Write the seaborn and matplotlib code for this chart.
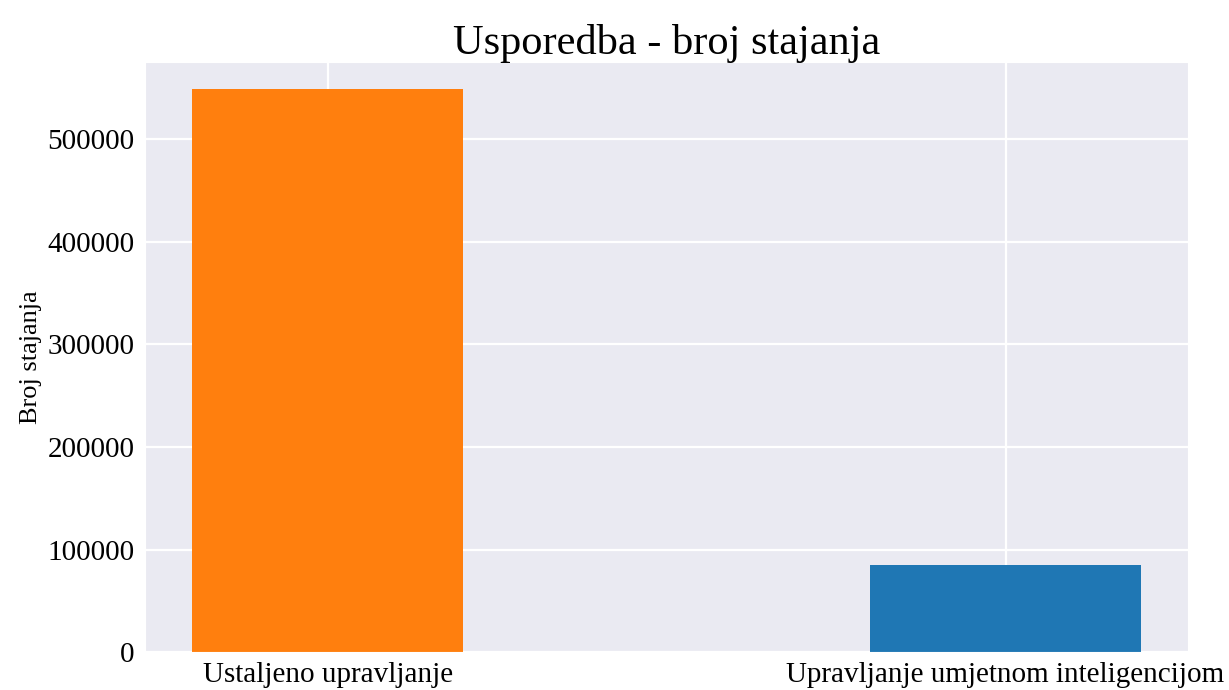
import pandas as pd
import seaborn as sns
import matplotlib.pyplot as plt

# Data
kategorije = ["Ustaljeno upravljanje", "Upravljanje umjetnom inteligencijom"]
broj_stajanja = [549500, 85000]
boje = ["#ff7f0e", "#1f77b4"]

df = pd.DataFrame({"kategorija": kategorije, "broj": broj_stajanja})

sns.set_style("darkgrid", {"text.color": "black",
                           "xtick.color": "black", "ytick.color": "black",
                           "axes.labelcolor": "black"})
plt.rcParams["font.family"] = ["Liberation Serif", "DejaVu Serif"]

fig, ax = plt.subplots(figsize=(12.29, 6.9), dpi=100)
fig.subplots_adjust(left=0.118, right=0.967, top=0.910, bottom=0.055)

sns.barplot(data=df, x="kategorija", y="broj", hue="kategorija",
            palette=boje, width=0.4, saturation=1, legend=False,
            linewidth=0, ax=ax)

# seaborn turns off the category grid and pads to +-0.5, undo that
ax.set_xlim(-0.27, 1.27)
ax.set_ylim(0, max(broj_stajanja) * 1.047)
ax.grid(True, axis="both", linewidth=1.6)
ax.set_axisbelow(True)

ax.set_title("Usporedba - broj stajanja", fontsize=30.5)
ax.set_xlabel("")
ax.set_ylabel("Broj stajanja", fontsize=19)
ax.tick_params(axis="both", labelsize=21, pad=4)

fig.savefig("out.png")
